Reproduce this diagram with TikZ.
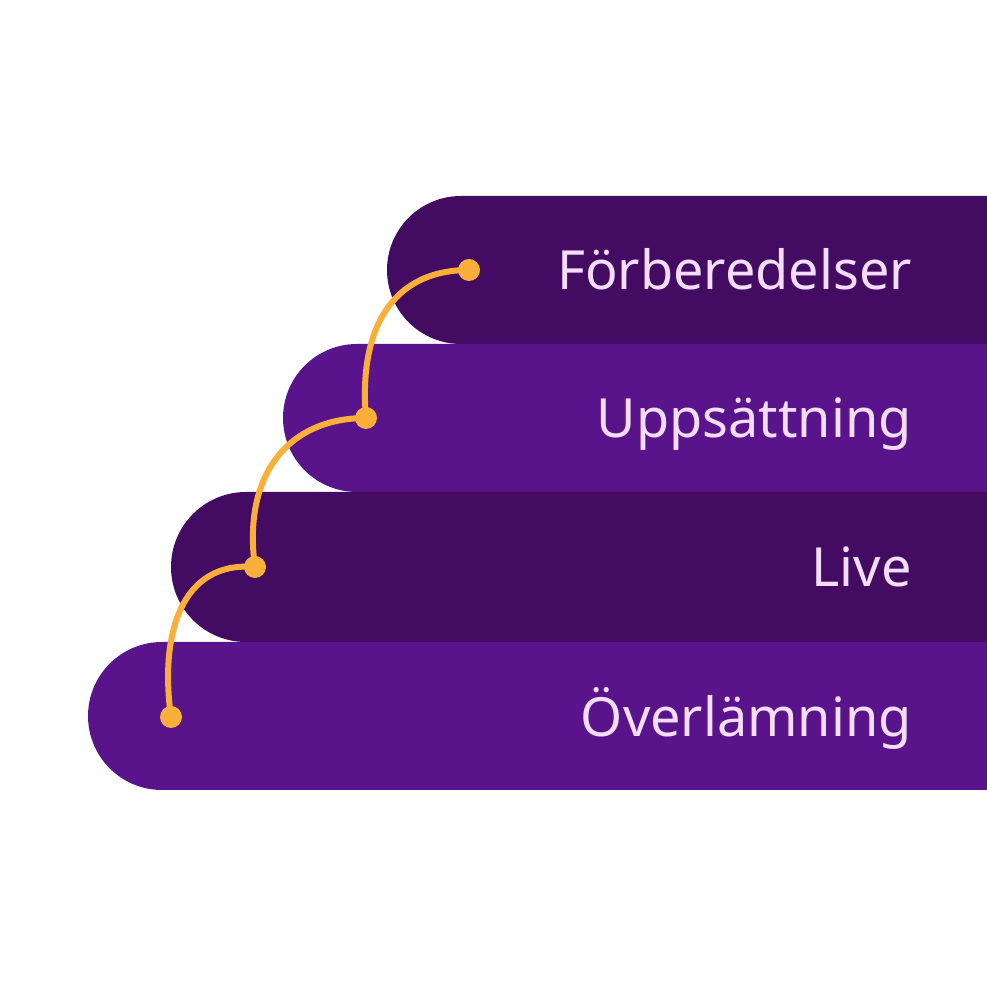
\documentclass[tikz,border=0pt]{standalone}
\usepackage{fontspec}
\setmainfont{Noto Sans}
\usepackage{xcolor}
\usetikzlibrary{positioning}
\definecolor{plumdark}{HTML}{430B62}
\definecolor{plumlight}{HTML}{5A148B}
\definecolor{lilac}{HTML}{F3DDFB}
\definecolor{amber}{HTML}{F9AF3A}

\begin{document}
\begin{tikzpicture}[
    x=1pt, y=1pt,
    bardark/.style={fill=plumdark},
    barlight/.style={fill=plumlight},
    steplabel/.style={font=\fontsize{54}{60}\selectfont, text=lilac,
                      anchor=base east, inner sep=0pt},
    dot/.style={circle, fill=amber, minimum size=22pt, inner sep=0pt},
    link/.style={draw=amber, line width=6pt, out looseness=1.1, in looseness=1.25},
  ]
  \useasboundingbox (0,0) rectangle (987,987);
  % ---- bars ----
  \fill[bardark]  (987,791) -- (461,791) arc[start angle=90, end angle=270, radius=74] -- (987,643) -- cycle;
  \fill[barlight] (987,643) -- (357,643) arc[start angle=90, end angle=270, radius=74] -- (987,495) -- cycle;
  \fill[bardark]  (987,495) -- (246,495) arc[start angle=90, end angle=270, radius=75] -- (987,345) -- cycle;
  \fill[barlight] (987,345) -- (162,345) arc[start angle=90, end angle=270, radius=74] -- (987,197) -- cycle;
  % ---- labels ----
  \node[steplabel] (prep)  at (912,697) {Förberedelser};
  \node[steplabel] (setup) at (912,549) {Uppsättning};
  \node[steplabel] (live)  at (912,400) {Live};
  \node[steplabel] (hand)  at (912,250) {Överlämning};
  % ---- dots and links ----
  \node[dot] (d1) at (469,717) {};
  \node[dot] (d2) at (366,569) {};
  \node[dot] (d3) at (255,420) {};
  \node[dot] (d4) at (171,270) {};
  \draw[link] (d1.center) to[out=180, in=95] (d2.center);
  \draw[link] (d2.center) to[out=180, in=98] (d3.center);
  \draw[link] (d3.center) to[out=175, in=98] (d4.center);
\end{tikzpicture}
\end{document}
